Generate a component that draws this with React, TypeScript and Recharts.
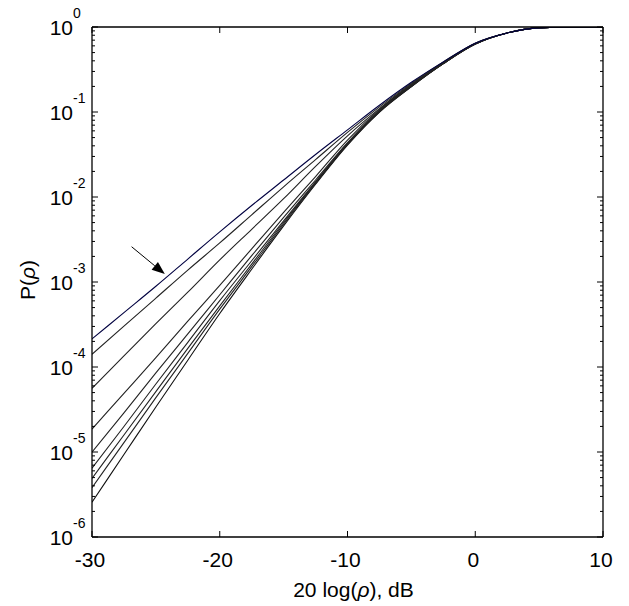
import React from "react";
import { LineChart, Line, XAxis, YAxis, ReferenceLine } from "recharts";

// 20 log(rho) in dB
const dbValues = [-30, -27.5, -25, -22.5, -20, -17.5, -15, -12.5, -10, -7.5, -5, -2.5, 0, 2.5, 5, 7.5, 10];

// log10 P(rho) (top curve first)
const curve1 = [-3.67, -3.36, -3.05, -2.73, -2.41, -2.1, -1.8, -1.5, -1.21, -0.92, -0.65, -0.41, -0.19, -0.07, -0.01, 0, 0];
const curve2 = [-3.85, -3.52, -3.19, -2.86, -2.54, -2.21, -1.88, -1.56, -1.24, -0.94, -0.66, -0.41, -0.19, -0.07, -0.01, 0, 0];
const curve3 = [-4.25, -3.87, -3.49, -3.12, -2.74, -2.38, -2.02, -1.64, -1.28, -0.96, -0.67, -0.42, -0.19, -0.07, -0.01, 0, 0];
const curve4 = [-4.73, -4.31, -3.89, -3.46, -3.04, -2.61, -2.18, -1.76, -1.33, -0.97, -0.68, -0.42, -0.2, -0.07, -0.01, 0, 0];
const curve5 = [-5.0, -4.54, -4.07, -3.61, -3.15, -2.69, -2.24, -1.8, -1.36, -0.98, -0.69, -0.43, -0.2, -0.07, -0.01, 0, 0];
const curve6 = [-5.19, -4.7, -4.2, -3.71, -3.22, -2.75, -2.28, -1.82, -1.37, -0.99, -0.69, -0.43, -0.2, -0.07, -0.01, 0, 0];
const curve7 = [-5.31, -4.8, -4.29, -3.78, -3.28, -2.79, -2.3, -1.83, -1.38, -0.99, -0.7, -0.43, -0.2, -0.07, -0.01, 0, 0];
const curve8 = [-5.42, -4.89, -4.36, -3.84, -3.32, -2.82, -2.32, -1.84, -1.38, -1.0, -0.7, -0.43, -0.2, -0.07, -0.01, 0, 0];
const curve9 = [-5.59, -5.03, -4.47, -3.92, -3.37, -2.85, -2.34, -1.85, -1.39, -1.0, -0.7, -0.43, -0.2, -0.07, -0.01, 0, 0];

const curves = [curve1, curve2, curve3, curve4, curve5, curve6, curve7, curve8, curve9];
const curveColors = ["#000040", "#222", "#222", "#222", "#222", "#222", "#222", "#222", "#111"];

const xTicks = [-30, -20, -10, 0, 10];
const yExponents = [-6, -5, -4, -3, -2, -1, 0];
const minorMultipliers = [2, 3, 4, 5, 6, 7, 8, 9];

// annotation arrow (dB, P)
const arrowFrom = { x: -26.9, y: 2.6e-3 };
const arrowTo = { x: -24.3, y: 1.24e-3 };

const data = dbValues.map((x, i) => {
  const row: Record<string, number> = { x };
  curves.forEach((c, k) => {
    row[`s${k}`] = Math.pow(10, c[i]);
  });
  return row;
});

const yTicks: number[] = [];
yExponents.forEach((e) => {
  yTicks.push(Math.pow(10, e));
  if (e < 0) minorMultipliers.forEach((m) => yTicks.push(m * Math.pow(10, e)));
});

const FONT = "'Liberation Sans', Arial, Helvetica, sans-serif";

const isMajor = (v: number) => {
  const l = Math.log10(v);
  return Math.abs(l - Math.round(l)) < 1e-6;
};

const LeftTick = (props: any) => {
  const { x, y, payload } = props;
  const v = payload.value;
  const major = isMajor(v);
  const e = Math.round(Math.log10(v));
  return (
    <g>
      <line x1={x} x2={x + (major ? 6 : 3)} y1={y} y2={y} stroke="#000" strokeWidth={1} />
      {major && (
        <>
          <text x={x - 19} y={y + 8} textAnchor="end" fontSize={21} fontFamily={FONT} fill="#000">
            10
          </text>
          <text x={x - 19} y={y - 9} textAnchor="start" fontSize={14} fontFamily={FONT} fill="#000">
            {e === 0 ? "0" : `-${Math.abs(e)}`}
          </text>
        </>
      )}
    </g>
  );
};

const RightTick = (props: any) => {
  const { x, y, payload } = props;
  const major = isMajor(payload.value);
  return <line x1={x} x2={x - (major ? 6 : 3)} y1={y} y2={y} stroke="#000" strokeWidth={1} />;
};

const BottomTick = (props: any) => {
  const { x, y, payload } = props;
  return (
    <g>
      <line x1={x} x2={x} y1={y} y2={y - 6} stroke="#000" strokeWidth={1} />
      <text x={x - 2} y={y + 30} textAnchor="middle" fontSize={21} fontFamily={FONT} fill="#000">
        {payload.value}
      </text>
    </g>
  );
};

const TopTick = (props: any) => {
  const { x, y } = props;
  return <line x1={x} x2={x} y1={y} y2={y + 6} stroke="#000" strokeWidth={1} />;
};

const XTitle = (props: any) => {
  const { viewBox } = props;
  const cx = viewBox.x + viewBox.width / 2 + 6;
  return (
    <text x={cx} y={viewBox.y + 60} textAnchor="middle" fontSize={21} fontFamily={FONT} fill="#000">
      20 log(<tspan fontStyle="italic">ρ</tspan>), dB
    </text>
  );
};

const YTitle = (props: any) => {
  const { viewBox } = props;
  const cy = viewBox.y + viewBox.height / 2 - 2;
  const cx = 35;
  return (
    <text
      x={cx}
      y={cy}
      transform={`rotate(-90, ${cx}, ${cy})`}
      textAnchor="middle"
      fontSize={21}
      fontFamily={FONT}
      fill="#000"
    >
      P(<tspan fontStyle="italic">ρ</tspan>)
    </text>
  );
};

const ArrowShape = (props: any) => {
  const { x1, y1, x2, y2 } = props;
  if (x1 == null || x2 == null) return null;
  const dx = x2 - x1;
  const dy = y2 - y1;
  const len = Math.sqrt(dx * dx + dy * dy);
  const ux = dx / len;
  const uy = dy / len;
  const headLen = 13;
  const headW = 5;
  const bx = x2 - ux * headLen;
  const by = y2 - uy * headLen;
  const p1 = `${bx - uy * headW},${by + ux * headW}`;
  const p2 = `${bx + uy * headW},${by - ux * headW}`;
  return (
    <g>
      <line x1={x1} y1={y1} x2={bx} y2={by} stroke="#000" strokeWidth={1} />
      <polygon points={`${x2},${y2} ${p1} ${p2}`} fill="#000" />
    </g>
  );
};

export default function App() {
  return (
    <div style={{ position: "absolute", left: 0, top: 0, background: "#fff" }}>
      <LineChart
        width={629}
        height={606}
        data={data}
        margin={{ top: 26, right: 25, bottom: 68, left: 91 }}
      >
        <XAxis
          dataKey="x"
          type="number"
          domain={[-30, 10]}
          ticks={xTicks}
          interval={0}
          height={1}
          tickSize={0}
          tickMargin={0}
          tick={<BottomTick />}
          tickLine={false}
          axisLine={{ stroke: "#000", strokeWidth: 1.3 }}
          allowDataOverflow
          label={{ content: <XTitle /> }}
        />
        <XAxis
          xAxisId="top"
          orientation="top"
          dataKey="x"
          type="number"
          domain={[-30, 10]}
          ticks={xTicks}
          interval={0}
          height={1}
          tickSize={0}
          tickMargin={0}
          tick={<TopTick />}
          tickLine={false}
          axisLine={{ stroke: "#000", strokeWidth: 1.3 }}
          allowDataOverflow
        />
        <YAxis
          type="number"
          scale="log"
          domain={[1e-6, 1]}
          ticks={yTicks}
          interval={0}
          width={1}
          tickSize={0}
          tickMargin={0}
          tick={<LeftTick />}
          tickLine={false}
          axisLine={{ stroke: "#000", strokeWidth: 1.3 }}
          allowDataOverflow
          label={{ content: <YTitle /> }}
        />
        <YAxis
          yAxisId="right"
          orientation="right"
          type="number"
          scale="log"
          domain={[1e-6, 1]}
          ticks={yTicks}
          interval={0}
          width={1}
          tickSize={0}
          tickMargin={0}
          tick={<RightTick />}
          tickLine={false}
          axisLine={{ stroke: "#000", strokeWidth: 1.3 }}
          allowDataOverflow
        />
        {curves.map((_, k) => (
          <Line
            key={k}
            dataKey={`s${k}`}
            type="monotone"
            stroke={curveColors[k]}
            strokeWidth={1.1}
            dot={false}
            activeDot={false}
            isAnimationActive={false}
          />
        )).reverse()}
        <ReferenceLine
          segment={[arrowFrom, arrowTo]}
          ifOverflow="visible"
          shape={<ArrowShape />}
        />
      </LineChart>
    </div>
  );
}
